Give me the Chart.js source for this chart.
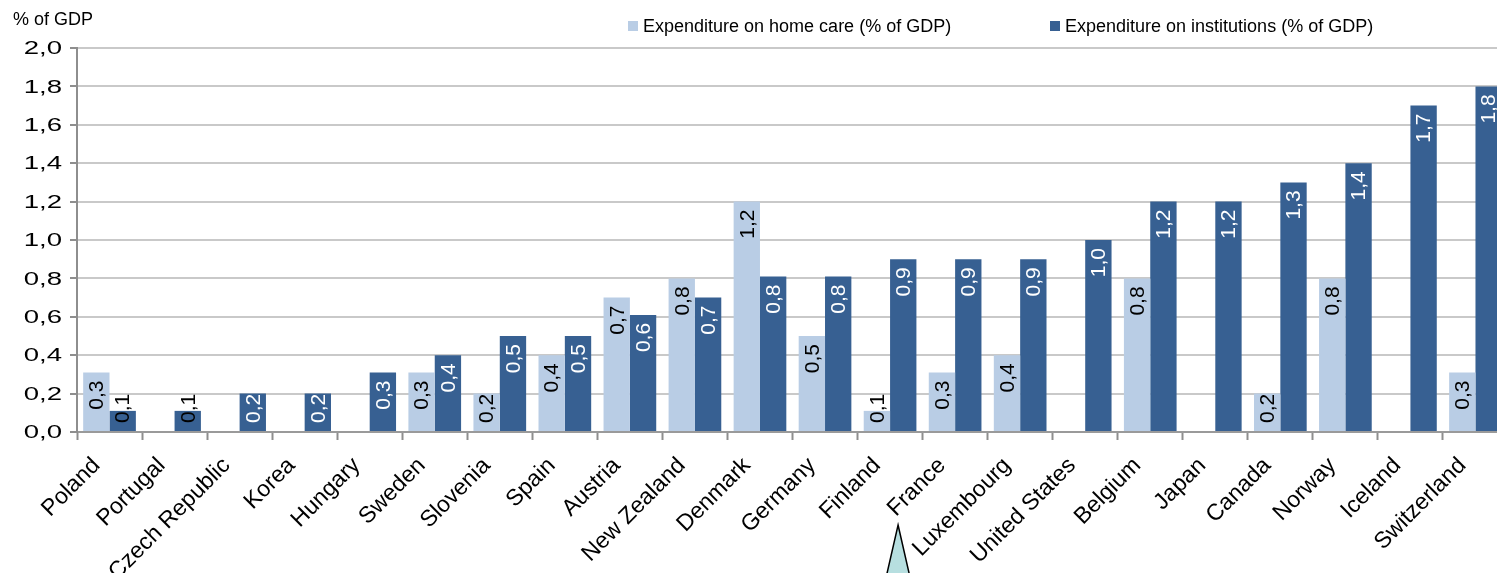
<!DOCTYPE html>
<html>
<head>
<meta charset="utf-8">
<script src="https://cdn.jsdelivr.net/npm/chart.js@4.4.1/dist/chart.umd.min.js"></script>
<style>
  html, body { margin: 0; padding: 0; background: #fff; overflow: hidden; }
  #wrap { position: relative; width: 1508px; height: 573px; }
</style>
</head>
<body>
<div id="wrap"><canvas id="chart"></canvas></div>
<script>
const countries = ['Poland', 'Portugal', 'Czech Republic', 'Korea', 'Hungary', 'Sweden', 'Slovenia',
  'Spain', 'Austria', 'New Zealand', 'Denmark', 'Germany', 'Finland', 'France', 'Luxembourg',
  'United States', 'Belgium', 'Japan', 'Canada', 'Norway', 'Iceland', 'Switzerland'];

// null = no bar drawn in the source
const homeCare = [0.31, null, null, null, null, 0.31, 0.20, 0.40, 0.70, 0.80, 1.20, 0.50, 0.11, 0.31,
  0.40, null, 0.80, null, 0.20, 0.80, null, 0.31];
const institutions = [0.11, 0.11, 0.20, 0.20, 0.31, 0.40, 0.50, 0.50, 0.61, 0.70, 0.81, 0.81, 0.90, 0.90,
  0.90, 1.00, 1.20, 1.20, 1.30, 1.40, 1.70, 1.80];

const seriesNames = ['Expenditure on home care (% of GDP)', 'Expenditure on institutions (% of GDP)'];
const yMin = 0, yMax = 2.0, yStep = 0.2;
const axisTitle = '% of GDP';

const FONT = '"Liberation Sans", Arial, sans-serif';
const LIGHT = '#b9cde5';
const DARK = '#376092';
const fmt = v => v.toFixed(1).replace('.', ',');

// value labels, custom tick labels, legend and the little marker triangle
const decorations = {
  id: 'decorations',
  afterDatasetsDraw(chart) {
    const ctx = chart.ctx;
    const base = chart.scales.y.getPixelForValue(0);
    chart.data.datasets.forEach((ds, di) => {
      const meta = chart.getDatasetMeta(di);
      meta.data.forEach((bar, i) => {
        const v = ds.data[i];
        if (v == null) return;
        const text = fmt(v);
        ctx.save();
        ctx.font = '21px ' + FONT;
        const w = ctx.measureText(text).width;
        let end = bar.y + 8;
        if (end + w > base - 9) end = base - 9 - w;
        // label sticking out of its bar is drawn dark, like the source
        const outside = end < bar.y - 3;
        ctx.translate(bar.x, end + w);
        ctx.rotate(-Math.PI / 2);
        ctx.fillStyle = outside ? '#000' : ds.labelColor;
        ctx.textAlign = 'left';
        ctx.textBaseline = 'middle';
        ctx.fillText(text, 0, 1);
        ctx.restore();
      });
    });
  },
  afterDraw(chart) {
    const ctx = chart.ctx;
    const x = chart.scales.x, y = chart.scales.y;
    const area = chart.chartArea;

    // y tick labels (source renders them wide)
    ctx.save();
    ctx.fillStyle = '#000';
    ctx.font = '19px ' + FONT;
    ctx.textAlign = 'right';
    ctx.textBaseline = 'middle';
    y.ticks.forEach(t => {
      ctx.save();
      ctx.translate(area.left - 15, y.getPixelForValue(t.value) + 1);
      ctx.scale(1.45, 1);
      ctx.fillText(fmt(t.value), 0, 0);
      ctx.restore();
    });
    ctx.restore();

    // x category labels at 45 degrees
    ctx.save();
    ctx.fillStyle = '#000';
    ctx.font = '23px ' + FONT;
    ctx.textAlign = 'right';
    ctx.textBaseline = 'middle';
    chart.data.labels.forEach((lab, i) => {
      ctx.save();
      ctx.translate(x.getPixelForValue(i) - 13, area.bottom + 30);
      ctx.rotate(-Math.PI / 4);
      ctx.fillText(lab, 0, 0);
      ctx.restore();
    });
    ctx.restore();

    // axis title
    ctx.save();
    ctx.fillStyle = '#000';
    ctx.font = '18px ' + FONT;
    ctx.textAlign = 'left';
    ctx.textBaseline = 'alphabetic';
    ctx.fillText(axisTitle, 13, 25);
    ctx.restore();

    // legend
    const legendX = [628, 1050];
    ctx.save();
    ctx.font = '18px ' + FONT;
    ctx.textBaseline = 'alphabetic';
    chart.data.datasets.forEach((ds, di) => {
      ctx.fillStyle = ds.backgroundColor;
      ctx.fillRect(legendX[di], 21, 10, 10);
      ctx.fillStyle = '#000';
      ctx.fillText(ds.label, legendX[di] + 15, 32);
    });
    ctx.restore();

    // marker triangle under the axis
    const tx = x.getPixelForValue(12) + 8;
    ctx.save();
    ctx.beginPath();
    ctx.moveTo(tx, 525);
    ctx.lineTo(tx + 16, 595);
    ctx.lineTo(tx - 16, 595);
    ctx.closePath();
    ctx.fillStyle = '#b7dfe0';
    ctx.fill();
    ctx.strokeStyle = '#000';
    ctx.lineWidth = 1.5;
    ctx.stroke();
    ctx.restore();
  }
};

new Chart(document.getElementById('chart'), {
  type: 'bar',
  data: {
    labels: countries,
    datasets: [
      { label: seriesNames[0], data: homeCare, backgroundColor: LIGHT, labelColor: '#000' },
      { label: seriesNames[1], data: institutions, backgroundColor: DARK, labelColor: '#fff' }
    ]
  },
  options: {
    responsive: true,
    maintainAspectRatio: false,
    animation: false,
    layout: { padding: { top: 48, left: 0, right: 0, bottom: 0 } },
    datasets: { bar: { categoryPercentage: 0.81, barPercentage: 1.0 } },
    plugins: {
      legend: { display: false },
      title: { display: false },
      tooltip: { enabled: false }
    },
    scales: {
      x: {
        ticks: { display: false },
        grid: {
          offset: true,
          drawOnChartArea: false,
          drawTicks: true,
          tickLength: 8,
          tickWidth: 2,
          tickColor: '#8e8e8e'
        },
        border: { color: '#9a9a9a', width: 2 },
        afterFit: s => { s.height = 141; }
      },
      y: {
        min: yMin,
        max: yMax,
        ticks: { display: false, stepSize: yStep },
        grid: {
          color: '#c9c9c9',
          lineWidth: 2,
          tickLength: 7,
          tickWidth: 2,
          tickColor: '#8e8e8e'
        },
        border: { color: '#8e8e8e', width: 2 },
        afterFit: s => { s.width = 77; }
      }
    }
  },
  plugins: [decorations]
});
</script>
</body>
</html>
